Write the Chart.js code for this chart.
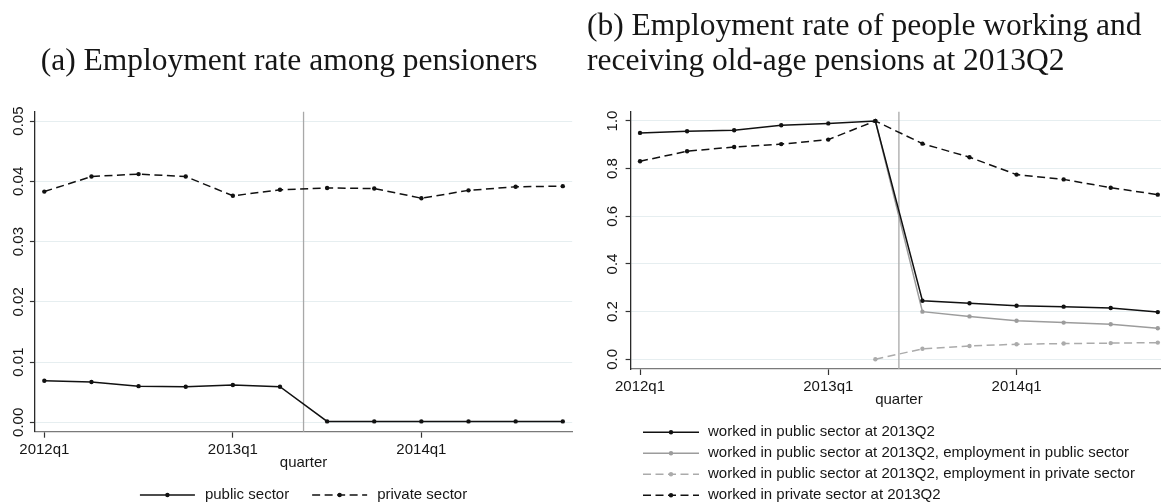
<!DOCTYPE html>
<html>
<head>
<meta charset="utf-8">
<title>Employment rate of pensioners</title>
<script src="https://cdn.jsdelivr.net/npm/chart.js@4.4.1/dist/chart.umd.min.js"></script>
<style>
  html, body { margin: 0; padding: 0; background: #fff; }
  body { width: 1161px; height: 504px; overflow: hidden; position: relative; }
  .panel { position: absolute; top: 0; height: 504px; }
  #panelA { left: 0; width: 580px; }
  #panelB { left: 580px; width: 600px; }
</style>
</head>
<body>
<div class="panel" id="panelA"><canvas id="chartA" width="580" height="504"></canvas></div>
<div class="panel" id="panelB"><canvas id="chartB" width="600" height="504"></canvas></div>
<script>
// Quarters on the x axis and the ones that carry a label
const quarters = ['2012q1', '2012q2', '2012q3', '2012q4', '2013q1', '2013q2',
                  '2013q3', '2013q4', '2014q1', '2014q2', '2014q3', '2014q4'];
const labeledQuarters = ['2012q1', '2013q1', '2014q1'];

// Reform date: between 2013q2 and 2013q3 (in quarter units from 2012q1)
const reformQuarter = 5.5;

// (a) Employment rate among pensioners
const publicSector  = [0.0069, 0.0067, 0.0060, 0.0059, 0.0062, 0.0059,
                       0.00015, 0.00015, 0.00015, 0.00015, 0.00015, 0.00015];
const privateSector = [0.0383, 0.0408, 0.0412, 0.0408, 0.0376, 0.0386,
                       0.0389, 0.0388, 0.0372, 0.0385, 0.0391, 0.0392];
const yTicksA      = [0, 0.01, 0.02, 0.03, 0.04, 0.05];
const yTickLabelsA = ['0.00', '0.01', '0.02', '0.03', '0.04', '0.05'];

// (b) People working and receiving old-age pensions at 2013Q2
const publicWorkers   = [0.950, 0.957, 0.961, 0.982, 0.990, 1.000,
                         0.246, 0.235, 0.225, 0.221, 0.215, 0.198];
const publicInPublic  = [null, null, null, null, null, 1.000,
                         0.200, 0.180, 0.162, 0.154, 0.147, 0.130];
const publicInPrivate = [null, null, null, null, null, 0.000,
                         0.044, 0.056, 0.063, 0.066, 0.068, 0.070];
const privateWorkers  = [0.831, 0.873, 0.891, 0.903, 0.922, 1.000,
                         0.905, 0.848, 0.775, 0.755, 0.720, 0.691];
const yTicksB      = [0, 0.2, 0.4, 0.6, 0.8, 1.0];
const yTickLabelsB = ['0.0', '0.2', '0.4', '0.6', '0.8', '1.0'];

// ---------------------------------------------------------------------------
const SANS = "'Liberation Sans', Arial, sans-serif";
const SERIF = "'Liberation Serif', 'Times New Roman', serif";
const TEXT = '#161616';
const BLACK = '#111111';
const GREY = '#9c9c9c';
const LIGHT_GREY = '#ababab';
const GRID = '#e6eef0';
const DASH = [8, 4.5];

const toPoints = values => values
  .map((y, i) => ({ x: i, y }))
  .filter(p => p.y !== null);

const lineStyle = (color, dashed) => ({
  borderColor: color,
  backgroundColor: color,
  borderWidth: 1.5,
  borderDash: dashed ? DASH : [],
  pointRadius: 2.2,
  pointBorderWidth: 0,
  pointBackgroundColor: color,
  pointStyle: 'circle',
  tension: 0,
  fill: false
});

// Legend entries drawn as a short line sample with its marker in the middle
const sampleLegend = {
  id: 'sampleLegend',
  afterDraw(chart, args, opts) {
    const ctx = chart.ctx;
    const items = chart.data.datasets;
    ctx.save();
    ctx.font = `${opts.fontSize}px ${SANS}`;
    ctx.textBaseline = 'middle';
    const drawSample = (ds, x, y) => {
      ctx.save();
      ctx.strokeStyle = ds.borderColor;
      ctx.lineWidth = ds.borderWidth;
      ctx.setLineDash(ds.borderDash || []);
      ctx.beginPath();
      ctx.moveTo(x, y);
      ctx.lineTo(x + opts.lineLength, y);
      ctx.stroke();
      ctx.setLineDash([]);
      ctx.fillStyle = ds.pointBackgroundColor;
      ctx.beginPath();
      ctx.arc(x + opts.lineLength / 2, y, ds.pointRadius, 0, Math.PI * 2);
      ctx.fill();
      ctx.restore();
    };
    ctx.fillStyle = TEXT;
    if (opts.direction === 'row') {
      const widths = items.map(ds => opts.lineLength + opts.textGap + ctx.measureText(ds.label).width);
      const total = widths.reduce((a, b) => a + b, 0) + opts.itemGap * (items.length - 1);
      let x = (chart.chartArea.left + chart.chartArea.right) / 2 - total / 2;
      items.forEach((ds, i) => {
        drawSample(ds, x, opts.y);
        ctx.fillStyle = TEXT;
        ctx.fillText(ds.label, x + opts.lineLength + opts.textGap, opts.y);
        x += widths[i] + opts.itemGap;
      });
    } else {
      items.forEach((ds, i) => {
        const y = opts.y + i * opts.rowGap;
        drawSample(ds, opts.x, y);
        ctx.fillStyle = TEXT;
        ctx.fillText(ds.label, opts.x + opts.lineLength + opts.textGap, y);
      });
    }
    ctx.restore();
  }
};

// Vertical reference line at the reform date
const reformLine = {
  id: 'reformLine',
  beforeDatasetsDraw(chart, args, opts) {
    const ctx = chart.ctx;
    const x = chart.scales.x.getPixelForValue(opts.value);
    const { top, bottom } = chart.chartArea;
    ctx.save();
    ctx.strokeStyle = opts.color;
    ctx.lineWidth = opts.width;
    ctx.beginPath();
    ctx.moveTo(x, top);
    ctx.lineTo(x, bottom);
    ctx.stroke();
    ctx.restore();
  }
};

function xScale(height, titlePadBottom) {
  return {
    type: 'linear',
    min: -0.2,
    max: 11.2,
    afterBuildTicks: s => { s.ticks = labeledQuarters.map(q => ({ value: quarters.indexOf(q) })); },
    afterFit: s => { s.height = height; },
    ticks: {
      autoSkip: false,
      maxRotation: 0,
      padding: 3,
      color: TEXT,
      font: { family: SANS, size: 15 },
      callback: (v, i) => labeledQuarters[i]
    },
    grid: { drawOnChartArea: false, drawTicks: true, tickLength: 6, tickColor: '#333', tickWidth: 1.2 },
    border: { display: true, color: '#7a7a7a', width: 1.3 },
    title: {
      display: true,
      text: 'quarter',
      color: TEXT,
      font: { family: SANS, size: 15, lineHeight: 1.2 },
      padding: { top: 0, bottom: titlePadBottom }
    }
  };
}

function yScale(min, max, ticks, labels, width, labelPad) {
  return {
    type: 'linear',
    min, max,
    afterBuildTicks: s => { s.ticks = ticks.map(v => ({ value: v })); },
    afterFit: s => { s.width = width; },
    ticks: {
      autoSkip: false,
      minRotation: 90,
      maxRotation: 90,
      crossAlign: 'center',
      padding: labelPad,
      color: TEXT,
      font: { family: SANS, size: 15 },
      callback: (v, i) => labels[i]
    },
    grid: { color: GRID, lineWidth: 1, drawTicks: true, tickLength: 5, tickColor: '#333', tickWidth: 1.2 },
    border: { display: true, color: '#2a2a2a', width: 1.3 }
  };
}

const common = {
  responsive: false,
  animation: false,
  events: [],
  devicePixelRatio: 1
};

// Panel (a)
new Chart(document.getElementById('chartA'), {
  type: 'line',
  data: {
    datasets: [
      Object.assign({ label: 'public sector', data: toPoints(publicSector) }, lineStyle(BLACK, false)),
      Object.assign({ label: 'private sector', data: toPoints(privateSector) }, lineStyle(BLACK, true))
    ]
  },
  plugins: [reformLine, sampleLegend],
  options: Object.assign({}, common, {
    layout: { padding: { left: 6, right: 7.8, top: 0, bottom: 0 } },
    scales: {
      x: xScale(72.3, 32.3),
      y: yScale(-0.00156, 0.05156, yTicksA, yTickLabelsA, 28.9, -3.9)
    },
    plugins: {
      legend: { display: false },
      tooltip: { enabled: false },
      title: {
        display: true,
        text: '(a) Employment rate among pensioners',
        align: 'center',
        color: TEXT,
        font: { family: SERIF, size: 31.5, weight: 'normal', lineHeight: '36px' },
        padding: { top: 43.4, bottom: 32.3 }
      },
      reformLine: { value: reformQuarter, color: '#a8a8a8', width: 1.3 },
      sampleLegend: { direction: 'row', y: 495, lineLength: 55, textGap: 10, itemGap: 23, fontSize: 15 }
    }
  })
});

// Panel (b)
new Chart(document.getElementById('chartB'), {
  type: 'line',
  data: {
    datasets: [
      Object.assign({ label: 'worked in public sector at 2013Q2', data: toPoints(publicWorkers) }, lineStyle(BLACK, false)),
      Object.assign({ label: 'worked in public sector at 2013Q2, employment in public sector', data: toPoints(publicInPublic) }, lineStyle(GREY, false)),
      Object.assign({ label: 'worked in public sector at 2013Q2, employment in private sector', data: toPoints(publicInPrivate) }, lineStyle(LIGHT_GREY, true)),
      Object.assign({ label: 'worked in private sector at 2013Q2', data: toPoints(privateWorkers) }, lineStyle(BLACK, true))
    ]
  },
  plugins: [reformLine, sampleLegend],
  options: Object.assign({}, common, {
    layout: { padding: { left: 7, right: 12.8, top: 0, bottom: 0 } },
    scales: {
      x: xScale(135, 95),
      y: yScale(-0.0407, 1.039, yTicksB, yTickLabelsB, 43.6, 2.2)
    },
    plugins: {
      legend: { display: false },
      tooltip: { enabled: false },
      title: {
        display: true,
        text: ['(b) Employment rate of people working and', 'receiving old-age pensions at 2013Q2'],
        align: 'start',
        color: TEXT,
        font: { family: SERIF, size: 31.5, weight: 'normal', lineHeight: '34.6px' },
        padding: { top: 9.5, bottom: 33 }
      },
      reformLine: { value: reformQuarter, color: '#a8a8a8', width: 1.3 },
      sampleLegend: { direction: 'column', x: 63, y: 432.3, rowGap: 21, lineLength: 56, textGap: 9, fontSize: 15 }
    }
  })
});
</script>
</body>
</html>
